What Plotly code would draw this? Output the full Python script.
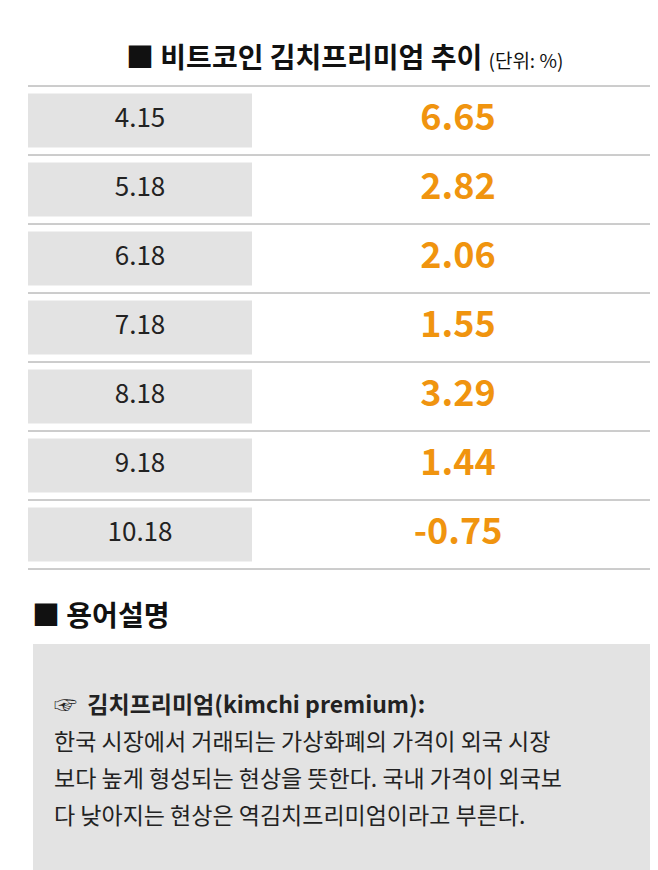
import plotly.graph_objects as go

dates = ["4.15", "5.18", "6.18", "7.18", "8.18", "9.18", "10.18"]
premium = [6.65, 2.82, 2.06, 1.55, 3.29, 1.44, -0.75]

title = "■ 비트코인 김치프리미엄 추이"
unit = "(단위: %)"
glossary_title = "■ 용어설명"
glossary_lines = [
    "☞  <b>김치프리미엄(kimchi premium):</b>",
    "한국 시장에서 거래되는 가상화폐의 가격이 외국 시장",
    "보다 높게 형성되는 현상을 뜻한다. 국내 가격이 외국보",
    "다 낮아지는 현상은 역김치프리미엄이라고 부른다.",
]

FONT = "Noto Sans CJK KR"
ORANGE = "#f0940f"
GRAY = "#e3e3e3"

# page body has an 8px margin, so shift the coordinate frame to match
OFF = 8

top, row_h = 70, 69
row_y = [top + row_h * i + row_h / 2 for i in range(len(dates))]

fig = go.Figure()

shapes = []
for i in range(len(dates) + 1):
    y = top + row_h * i
    shapes.append(dict(type="line", x0=12, x1=646, y0=y, y1=y,
                       line=dict(color="#9a9a9a", width=1)))
for y in row_y:
    shapes.append(dict(type="rect", x0=12, x1=236, y0=y - 27, y1=y + 27,
                       fillcolor=GRAY, line=dict(width=0), layer="below"))
shapes.append(dict(type="rect", x0=17, x1=637, y0=628, y1=858,
                   fillcolor=GRAY, line=dict(width=0), layer="below"))

fig.add_trace(go.Scatter(
    x=[124] * len(dates), y=row_y, mode="text", text=dates,
    textfont=dict(family=FONT, size=26, color="#222"), hoverinfo="skip"))
fig.add_trace(go.Scatter(
    x=[442] * len(premium), y=row_y, mode="text",
    text=[f"<b>{v:.2f}</b>" for v in premium],
    textfont=dict(family=FONT, size=36, color=ORANGE), hoverinfo="skip"))

annotations = [
    dict(x=328, y=40, text=f"<b>{title}</b> <span style='font-size:19px'>{unit}</span>",
         showarrow=False, font=dict(family=FONT, size=28, color="#111")),
    dict(x=14, y=598, xanchor="left", text=f"<b>{glossary_title}</b>",
         showarrow=False, font=dict(family=FONT, size=28, color="#111")),
]
for i, line in enumerate(glossary_lines):
    annotations.append(dict(x=36, y=687 + 37 * i, xanchor="left", text=line,
                            showarrow=False,
                            font=dict(family=FONT, size=23, color="#222")))

fig.update_layout(
    width=658, height=870, margin=dict(l=0, r=0, t=0, b=0),
    plot_bgcolor="white", paper_bgcolor="white", showlegend=False,
    xaxis=dict(range=[-OFF, 658 - OFF], visible=False, fixedrange=True),
    yaxis=dict(range=[870 - OFF, -OFF], visible=False, fixedrange=True),
    shapes=shapes, annotations=annotations,
)

fig.write_html("out.html")
